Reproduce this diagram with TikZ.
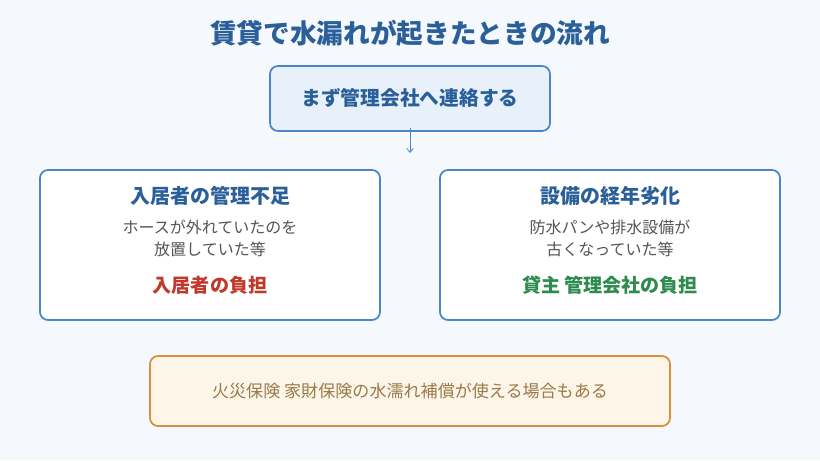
\documentclass[tikz,border=0pt]{standalone}
\usepackage{fontspec}
\setmainfont{Noto Sans CJK JP}
\usetikzlibrary{arrows.meta}
\definecolor{bg}{HTML}{F5F8FC}
\definecolor{navy}{HTML}{2A5F9A}
\definecolor{bord}{HTML}{4A86C5}
\definecolor{lblue}{HTML}{E8F1FA}
\definecolor{gtxt}{HTML}{555555}
\definecolor{redt}{HTML}{C0392B}
\definecolor{grn}{HTML}{2E8B4E}
\definecolor{obord}{HTML}{D9903A}
\definecolor{ofill}{HTML}{FDF6E8}
\definecolor{otxt}{HTML}{9A7A4A}
\begin{document}
\begin{tikzpicture}[x=0.75pt,y=-0.75pt,
 box/.style={draw=bord,line width=1.3pt,rounded corners=6pt},
 ttl/.style={font=\fontsize{15pt}{18pt}\selectfont\bfseries,text=navy},
 dsc/.style={font=\fontsize{12pt}{16.5pt}\selectfont,text=gtxt,align=center},
 res/.style={font=\fontsize{14.3pt}{17pt}\selectfont\bfseries},
]
\fill[bg] (0,0) rectangle (820,460);
\node[font=\fontsize{20pt}{24pt}\selectfont\bfseries,text=navy] (title) at (410,33) {賃貸で水漏れが起きたときの流れ};
\draw[box,fill=lblue] (270,66) rectangle (550,131);
\node[ttl,font=\fontsize{14.8pt}{18pt}\selectfont\bfseries] (top) at (410,98) {まず管理会社へ連絡する};
\coordinate (ae) at (410,153);
\draw[bord,line width=0.6pt,-{Straight Barb[length=3pt,width=5pt]}] (410,128) -- (ae);
\draw[box,fill=white] (40,170) rectangle (380,320);
\node[ttl] (lt) at (210,196) {入居者の管理不足};
\node[dsc] (ld) at (210,238) {ホースが外れていたのを\\放置していた等};
\node[res,text=redt] (lr) at (210,285) {入居者の負担};
\draw[box,fill=white] (440,170) rectangle (780,320);
\node[ttl] (rt) at (610,196) {設備の経年劣化};
\node[dsc] (rd) at (610,238) {防水パンや排水設備が\\古くなっていた等};
\node[res,text=grn] (rr) at (610,285) {貸主 管理会社の負担};
\draw[draw=obord,line width=1.3pt,rounded corners=6pt,fill=ofill] (150,356) rectangle (670,426);
\node[font=\fontsize{12.8pt}{15pt}\selectfont,text=otxt] (bt) at (410,391) {火災保険 家財保険の水濡れ補償が使える場合もある};
\end{tikzpicture}
\end{document}
